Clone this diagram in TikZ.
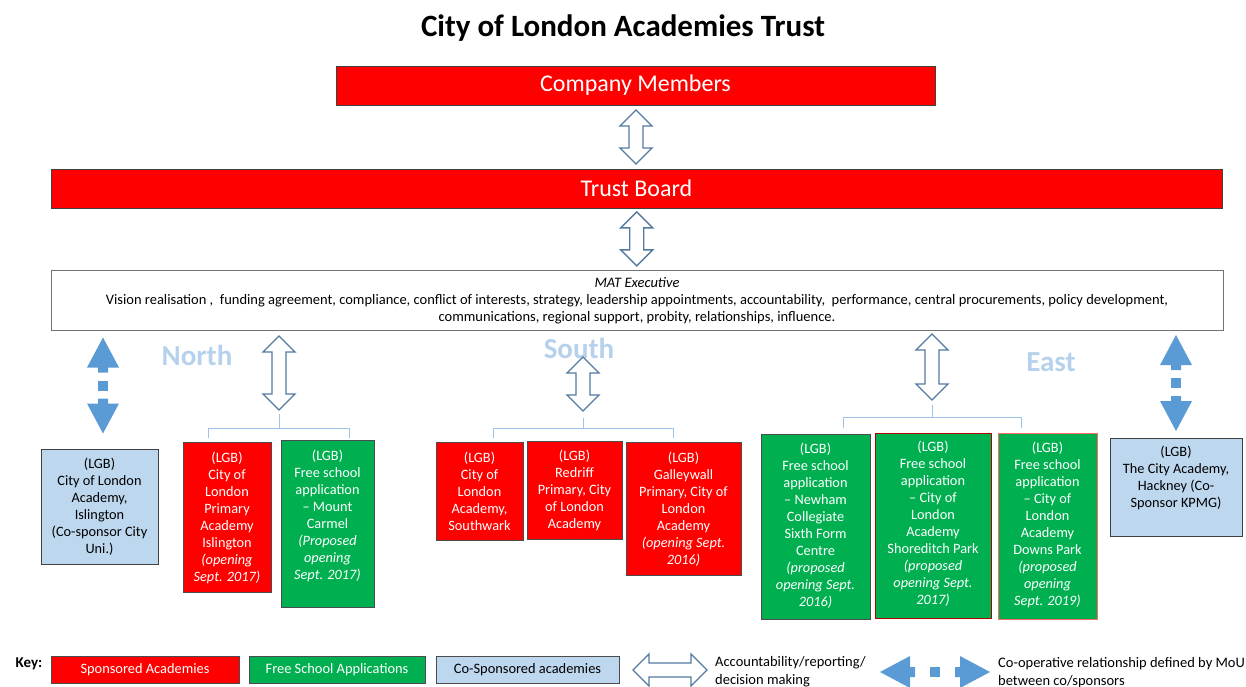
\documentclass[tikz,border=0pt]{standalone}
\usepackage{fontspec}
\setmainfont{Carlito}
\usetikzlibrary{positioning,calc}
\definecolor{cltred}{RGB}{255,0,0}
\definecolor{cltgreen}{RGB}{0,176,80}
\definecolor{cltblue}{RGB}{189,215,238}
\definecolor{arrowline}{RGB}{84,122,160}
\definecolor{coopblue}{RGB}{91,155,213}
\definecolor{regiontext}{RGB}{182,209,236}
\definecolor{bracketblue}{RGB}{157,195,230}
\tikzset{>=stealth}
\tikzset{
  bar/.style={draw=black!75, fill=cltred, text=white, inner sep=0pt, font=\fontsize{24}{28}\selectfont},
  redbox/.style={draw=black!70, fill=cltred, inner sep=0pt},
  greenbox/.style={draw=black!70, fill=cltgreen, inner sep=0pt},
  bluebox/.style={draw=black!75, fill=cltblue, inner sep=0pt},
  intext/.style={align=center, inner sep=0pt, text=white, font=\fontsize{14.3}{17}\selectfont},
  keybox/.style={minimum height=27pt, inner sep=0pt, font=\fontsize{14.4}{17}\selectfont},
  keytext/.style={align=left, anchor=north west, inner sep=0pt, font=\fontsize{14.5}{18}\selectfont},
  region/.style={text=regiontext, font=\bfseries\fontsize{29}{32}\selectfont},
  hollow/.style={draw=arrowline, fill=white, line width=1.3pt, line join=miter},
  bracket/.style={draw=bracketblue, line width=1pt},
  pics/updown/.style={code={
    \draw[hollow] (0,-#1) -- (16,-#1+16) -- (7,-#1+16) -- (7,#1-16) -- (16,#1-16) -- (0,#1)
      -- (-16,#1-16) -- (-7,#1-16) -- (-7,-#1+16) -- (-16,-#1+16) -- cycle;}},
  pics/coop/.style={code={
    \fill[coopblue] (0,-#1) -- (16,-#1+30) -- (5,-#1+30) -- (5,-#1+35) -- (-5,-#1+35) -- (-5,-#1+30) -- (-16,-#1+30) -- cycle;
    \fill[coopblue] (-5,-5) rectangle (5,5);
    \fill[coopblue] (0,#1) -- (16,#1-30) -- (5,#1-30) -- (5,#1-35) -- (-5,#1-35) -- (-5,#1-30) -- (-16,#1-30) -- cycle;}}
}

\begin{document}
\begin{tikzpicture}[x=1pt,y=-1pt]
\useasboundingbox (0,0) rectangle (1246,686);
\clip (0,0) rectangle (1246,686);

\node[font=\bfseries\fontsize{31}{34}\selectfont] (title) at (623,28) {City of London Academies Trust};
\node[bar, minimum width=599pt, minimum height=39pt] (members) at (635.5,85.5) {Company Members};
\node[bar, minimum width=1171pt, minimum height=39pt] (board) at (636.5,188.5) {Trust Board};
\node[draw=black!55, line width=1pt, fill=white, minimum width=1172pt, minimum height=60pt, inner sep=0pt] (exec) at (637,300) {};
\node[intext, text=black, font=\fontsize{14.5}{17}\selectfont, below=8pt of exec.north] (exectext) {\textit{MAT Executive}\\
  Vision realisation ,\ \ funding agreement,\ compliance, conflict of interests, strategy, leadership appointments, accountability,\ \ performance, central procurements, policy development,\\
  communications, regional support, probity, relationships, influence.};

\pic at ($(members.south)!.5!(board.north)$) {updown=27};
\pic at ($(board.south)!.5!(exec.north)$) {updown=27};

% regions
\node[region] (north) at (197,355) {North};
\node[region] (south) at (579,348) {South};
\node[region] (east) at (1051,362) {East};
\coordinate (northhub) at (279,428);
\coordinate (southhub) at (583,428);
\coordinate (easthub) at (932,417);
\draw[bracket] (208,438) |- (349,428) -- (349,438);
\draw[bracket] (493,438) |- (673,428) -- (673,438);
\draw[bracket] (843,428) |- (1021,417) -- (1021,428);
\draw[bracket] (northhub) -- ++(0,-14);
\draw[bracket] (southhub) -- ++(0,-10);
\draw[bracket] (easthub) -- ++(0,-12);
\pic at ($(northhub)+(0,-55)$) {updown=37};
\pic at ($(southhub)+(0,-44)$) {updown=27};
\pic at ($(easthub)+(0,-50)$) {updown=33};
\pic at (103,385.5) {coop=48};
\pic at (1176,383) {coop=48};

% schools
\node[bluebox, minimum width=117pt, minimum height=115pt] (islington) at (99.5,506.5) {};
\node[intext, text=black, below=9pt of islington.north] (islington-t) {(LGB)\\City of London\\Academy,\\Islington\\(Co-sponsor City\\Uni.)};
\node[redbox, minimum width=88pt, minimum height=150pt] (primisl) at (227,517) {};
\node[intext, below=10pt of primisl.north] (primisl-t) {(LGB)\\City of\\London\\Primary\\Academy\\Islington\\\textit{(opening}\\\textit{Sept. 2017)}};
\node[greenbox, minimum width=93pt, minimum height=167pt] (carmel) at (327.5,523.5) {};
\node[intext, below=10pt of carmel.north] (carmel-t) {(LGB)\\Free school\\application\\– Mount\\Carmel\\\textit{(Proposed}\\\textit{opening}\\\textit{Sept. 2017)}};

\node[redbox, minimum width=87pt, minimum height=98pt] (southwark) at (479.5,491) {};
\node[intext, below=10pt of southwark.north] (southwark-t) {(LGB)\\City of\\London\\Academy,\\Southwark};
\node[redbox, minimum width=95pt, minimum height=98pt] (redriff) at (574.5,490) {};
\node[intext, below=9pt of redriff.north] (redriff-t) {(LGB)\\Redriff\\Primary, City\\of London\\Academy};
\node[redbox, minimum width=115pt, minimum height=133pt] (galleywall) at (683.5,508.5) {};
\node[intext, below=10pt of galleywall.north] (galleywall-t) {(LGB)\\Galleywall\\Primary, City of\\London\\Academy\\\textit{(opening Sept.}\\\textit{2016)}};

\node[greenbox, minimum width=109pt, minimum height=185pt] (newham) at (815.5,526.5) {};
\node[intext, below=9pt of newham.north] (newham-t) {(LGB)\\Free school\\application\\– Newham\\Collegiate\\Sixth Form\\Centre\\\textit{(proposed}\\\textit{opening Sept.}\\\textit{2016)}};
\node[greenbox, draw=red!70!black, minimum width=116pt, minimum height=185pt] (shoreditch) at (933,525.5) {};
\node[intext, below=8pt of shoreditch.north] (shoreditch-t) {(LGB)\\Free school\\application\\– City of\\London\\Academy\\Shoreditch Park\\\textit{(proposed}\\\textit{opening Sept.}\\\textit{2017)}};
\node[greenbox, draw=red!60, minimum width=99pt, minimum height=186pt] (downs) at (1047.5,526) {};
\node[intext, below=9pt of downs.north] (downs-t) {(LGB)\\Free school\\application\\– City of\\London\\Academy\\Downs Park\\\textit{(proposed}\\\textit{opening}\\\textit{Sept. 2019)}};
\node[bluebox, minimum width=132pt, minimum height=98pt] (hackney) at (1176,487) {};
\node[intext, text=black, below=8pt of hackney.north] (hackney-t) {(LGB)\\The City Academy,\\Hackney (Co-\\Sponsor KPMG)};

% key
\node[font=\bfseries\fontsize{15}{18}\selectfont] (key) at (29,664) {Key:};
\node[keybox, draw=black!70, fill=cltred, text=white, minimum width=188pt] (keyred) at (145,669.5) {Sponsored Academies};
\node[keybox, draw=black!70, fill=cltgreen, text=white, minimum width=176pt] (keygreen) at (337,669.5) {Free School Applications};
\node[keybox, draw=black!70, fill=cltblue, minimum width=183pt] (keyblue) at (527.5,669.5) {Co-Sponsored academies};
\pic[rotate=90] at (670,670) {updown=37};
\node[keytext] (keyacc) at (715,656) {Accountability/reporting/\\decision making};
\pic[rotate=90] at (935,672) {coop=55};
\node[keytext] (keycoop) at (998,657) {Co-operative relationship defined by MoU\\between co/sponsors};
\end{tikzpicture}
\end{document}
